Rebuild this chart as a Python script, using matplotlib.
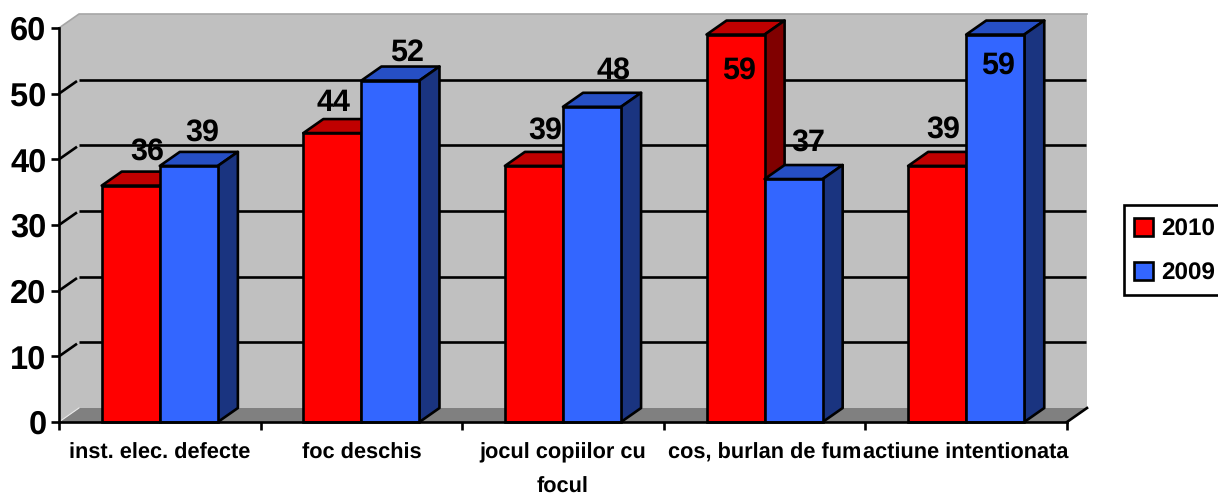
import matplotlib
matplotlib.use('Agg')
import matplotlib.pyplot as plt
from matplotlib.patches import Polygon, Patch, Rectangle

plt.rcParams['font.family'] = ['Liberation Sans', 'DejaVu Sans']
plt.rcParams['font.weight'] = 'bold'
plt.rcParams['text.hinting'] = 'no_hinting'

categorii = ['inst. elec. defecte', 'foc deschis', 'jocul copiilor cu\nfocul',
             'cos, burlan de fum', 'actiune intentionata']
valori_2010 = [36, 44, 39, 59, 39]
valori_2009 = [39, 52, 48, 37, 59]
serii = ['2010', '2009']
y_ticks = [0, 10, 20, 30, 40, 50, 60]

# mutarea etichetelor fata de centrul barei, in pixeli
off_2010 = [(16, 34), (1, 30), (11, 35), (3, -36), (6, 36)]
off_2009 = [(13, 33), (17, 28), (21, 36), (15, 36), (3, -31)]

W, H = 1218, 495
fig = plt.figure(figsize=(W / 100, H / 100), dpi=100)
ax = fig.add_axes([59 / W, (H - 422) / H, 1008 / W, 394 / H])
ax.set_xlim(0, 5)
ax.set_ylim(0, 60)

# adancimea 3D in unitati de date
dx = 20 / (1008 / 5)
dy = 14 / (394 / 60)
lw = 1.9
bw = 0.288


def poligon(pts, fc, ec='none', lw=0, z=1):
    ax.add_patch(Polygon(pts, closed=True, facecolor=fc, edgecolor=ec, linewidth=lw,
                         joinstyle='round', clip_on=False, zorder=z))


# pereti si podea
poligon([(0, 0), (dx, dy), (5 + dx, dy), (5, 0)], '#808080', z=1)
poligon([(dx, dy), (dx, 60 + dy), (5 + dx, 60 + dy), (5 + dx, dy)], '#C0C0C0', z=1)
poligon([(0, 0), (0, 60), (dx, 60 + dy), (dx, dy)], '#C0C0C0', z=1)
ax.plot([0, dx, 5 + dx], [60, 60 + dy, 60 + dy], color='#A6A6A6', lw=1.2,
        clip_on=False, zorder=1.5)
ax.plot([0, dx], [0, dy], color='#E8E8E8', lw=0.8, clip_on=False, zorder=1.5)
ax.plot([5, 5 + dx], [0, dy], color='black', lw=lw, clip_on=False, zorder=2)

# linii de grila pe perete
for v in y_ticks[1:-1]:
    ax.plot([dx, 5 + dx * 0.97], [v + dy, v + dy], color='black', lw=lw, clip_on=False,
            solid_capstyle='butt', zorder=2)
    ax.plot([0, dx * 0.9], [v, v + dy * 0.9], color='black', lw=lw, clip_on=False,
            solid_capstyle='butt', zorder=2)


def bare(x, valori, fata, sus, lateral, z):
    for xi, v in zip(x, valori):
        st, dr = xi - bw / 2, xi + bw / 2
        poligon([(st, v), (st + dx, v + dy), (dr + dx, v + dy), (dr, v)], sus, 'black', lw, z)
        poligon([(dr, 0), (dr + dx, dy), (dr + dx, v + dy), (dr, v)], lateral, 'black', lw, z)
    ax.bar(x, valori, width=bw, color=fata, edgecolor='black', linewidth=lw, zorder=z + 0.1,
           clip_on=False)


centre = [i + 0.5 for i in range(len(categorii))]
x_2010 = [c - bw / 2 for c in centre]
x_2009 = [c + bw / 2 for c in centre]
bare(x_2010, valori_2010, '#FF0000', '#C00000', '#800000', 3)
bare(x_2009, valori_2009, '#3366FF', '#264FC4', '#1A3480', 4)

# etichete cu valori
for x, valori, off in [(x_2010, valori_2010, off_2010), (x_2009, valori_2009, off_2009)]:
    for xi, v, o in zip(x, valori, off):
        ax.annotate(str(v), (xi, v), xytext=(o[0] * 0.72, o[1] * 0.72), textcoords='offset points',
                    ha='center', va='center', fontsize=22, color='black', zorder=6,
                    annotation_clip=False)

for s in ['top', 'right']:
    ax.spines[s].set_visible(False)
for s in ['left', 'bottom']:
    ax.spines[s].set_linewidth(lw)
    ax.spines[s].set_zorder(5)
ax.patch.set_visible(False)

ax.set_yticks(y_ticks)
ax.tick_params(axis='y', labelsize=23.5, length=6, width=lw, pad=3)
ax.set_xticks(range(6))
ax.set_xticklabels([])
ax.tick_params(axis='x', which='major', length=6, width=lw)
ax.set_xticks(centre, minor=True)
ax.set_xticklabels(categorii, minor=True, fontsize=15.7, linespacing=1.85)
ax.tick_params(axis='x', which='minor', length=0, pad=15)

# legenda, cu chenarul desenat separat
fig.add_artist(Rectangle((1124 / W, 1 - 295 / H), 110 / W, 90 / H, transform=fig.transFigure,
                         facecolor='white', edgecolor='black', linewidth=lw))
h = [Patch(facecolor='#FF0000', edgecolor='black', linewidth=lw),
     Patch(facecolor='#3366FF', edgecolor='black', linewidth=lw)]
fig.legend(h, serii, loc='upper left', bbox_to_anchor=(1124 / W, 1 - 208 / H), borderaxespad=0,
           fontsize=17.5, frameon=False, handlelength=0.78, handleheight=0.78,
           handletextpad=0.33, labelspacing=0.87, borderpad=0.42)

fig.savefig('out.png', dpi=100)
